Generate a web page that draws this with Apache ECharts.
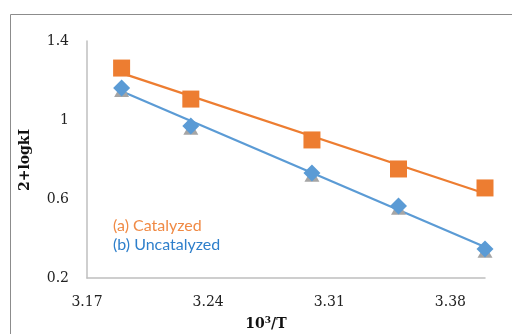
<!DOCTYPE html>
<html><head><meta charset="utf-8">
<script src="https://cdn.jsdelivr.net/npm/echarts@6/dist/echarts.min.js"></script>
<style>html,body{margin:0;padding:0;background:#fff}#c{width:512px;height:334px}</style>
</head><body><div id="c"></div>
<script>
const xValues = [3.19, 3.23, 3.30, 3.35, 3.40];
const catalyzed = [1.263, 1.106, 0.899, 0.752, 0.656];
const uncatalyzed = [1.162, 0.970, 0.732, 0.565, 0.347];
const uncatalyzedTri = [1.160, 0.968, 0.730, 0.563, 0.345];
const xTicks = [3.17, 3.24, 3.31, 3.38];
const yTicks = [0.2, 0.6, 1.0, 1.4];

function fit(xs, ys) {
  const n = xs.length;
  const mx = xs.reduce((a, b) => a + b, 0) / n, my = ys.reduce((a, b) => a + b, 0) / n;
  let sxy = 0, sxx = 0;
  for (let i = 0; i < n; i++) { sxy += (xs[i] - mx) * (ys[i] - my); sxx += (xs[i] - mx) ** 2; }
  const b = sxy / sxx, a = my - b * mx;
  const x0 = Math.min(...xs), x1 = Math.max(...xs);
  return [[x0, a + b * x0], [x1, a + b * x1]];
}
const pairs = (xs, ys) => xs.map((x, i) => [x, ys[i]]);

const ORANGE = '#ED7D31', BLUE = '#5B9BD5', GRAY = '#A5A5A5';
const chart = echarts.init(document.getElementById('c'));
chart.setOption({
  animation: false,
  grid: { left: 87, right: 27, top: 41, bottom: 56, containLabel: false, outerBoundsMode: 'none' },
  xAxis: {
    type: 'value', min: xTicks[0], max: 3.40, interval: 0.07,
    axisLine: { lineStyle: { color: '#BFBFBF', width: 1.5 } },
    axisTick: { show: false }, splitLine: { show: false },
    axisLabel: { margin: 17, fontFamily: 'DejaVu Serif', fontSize: 14, color: '#222',
      formatter: v => (Math.abs(v - 3.40) < 1e-6 ? '' : v.toFixed(2)) }
  },
  yAxis: {
    type: 'value', min: yTicks[0], max: yTicks[yTicks.length - 1], interval: 0.4,
    axisLine: { show: true, lineStyle: { color: '#BFBFBF', width: 1.5 } },
    axisTick: { show: false }, splitLine: { show: false },
    axisLabel: { margin: 18, fontFamily: 'DejaVu Serif', fontSize: 14, color: '#222',
      formatter: v => String(+v.toFixed(2)) }
  },
  series: [
    { type: 'line', data: fit(xValues, catalyzed), symbol: 'none', lineStyle: { color: ORANGE, width: 2.25 }, z: 1 },
    { type: 'line', data: fit(xValues, uncatalyzed), symbol: 'none', lineStyle: { color: BLUE, width: 2.25 }, z: 1 },
    { type: 'scatter', data: pairs(xValues, uncatalyzedTri), symbol: 'triangle', symbolSize: [15, 13], symbolOffset: [0, 2], itemStyle: { color: GRAY, opacity: 1 }, z: 2 },
    { type: 'scatter', data: pairs(xValues, uncatalyzed), symbol: 'diamond', symbolSize: 17, itemStyle: { color: BLUE, opacity: 1 }, z: 3 },
    { type: 'scatter', data: pairs(xValues, catalyzed), symbol: 'rect', symbolSize: 17, itemStyle: { color: ORANGE, opacity: 1 }, z: 3 }
  ],
  graphic: [
    { type: 'rect', shape: { x: 10.5, y: 14.5, width: 600, height: 400 }, style: { fill: null, stroke: '#8C8C8C', lineWidth: 1 }, silent: true, z: -1 },
    { type: 'text', left: 113, top: 218, style: { text: '(a) Catalyzed', fill: '#F08A45', font: '16px Lato' } },
    { type: 'text', left: 113, top: 237, style: { text: '(b) Uncatalyzed', fill: '#2E7FCB', font: '16px Lato' } },
    { type: 'text', x: 25, y: 160, rotation: Math.PI / 2,
      style: { text: '2+logkI', fill: '#111', font: 'bold 14px "DejaVu Serif"', align: 'center', verticalAlign: 'middle' } },
    { type: 'text', x: 266, y: 324,
      style: { text: '{b|10}{s|3}{b|/T}', fill: '#111', align: 'center', verticalAlign: 'middle',
        rich: { b: { font: 'bold 14px "DejaVu Serif"', fill: '#111', verticalAlign: 'bottom' },
                s: { font: 'bold 9px "DejaVu Serif"', fill: '#111', verticalAlign: 'top', padding: [0, 0, 6, 0] } } } }
  ]
});
</script></body></html>
